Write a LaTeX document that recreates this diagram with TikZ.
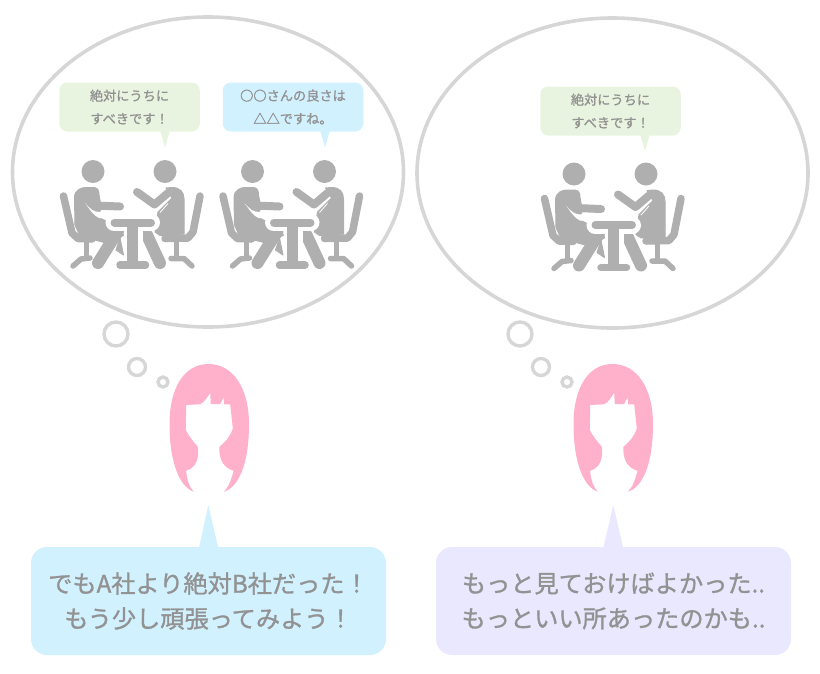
\documentclass[tikz,border=0pt]{standalone}
\usepackage{fontspec}
\usepackage{xcolor}
\usepackage{tikz}
\usetikzlibrary{shapes.geometric}
\newfontfamily\jpfont[FakeBold=1.1]{Noto Sans CJK JP}
\definecolor{ringgray}{HTML}{D6D6D6}
\definecolor{figgray}{HTML}{AFAFAF}
\definecolor{textgray}{HTML}{929292}
\definecolor{hairpink}{HTML}{FFB0CB}
\definecolor{sayblue}{HTML}{D2F1FF}
\definecolor{saygreen}{HTML}{E8F4DF}
\definecolor{saypurple}{HTML}{EAE8FE}

\begin{document}
\begin{tikzpicture}[
  x=1pt,y=-1pt,
  every node/.style={font=\jpfont,text=textgray,align=center,inner sep=0pt},
  thought/.style={ellipse,draw=ringgray,line width=3.6pt,minimum width=391pt,minimum height=310pt},
  ring/.style={circle,draw=ringgray,line width=3.4pt,minimum size=#1},
  smallsay/.style={rounded corners=8pt,fill=#1,minimum width=140.5pt,minimum height=49pt,font=\jpfont\fontsize{13.2}{23}\selectfont},
  bigsay/.style={rounded corners=16pt,fill=#1,minimum width=355pt,minimum height=108pt,font=\jpfont\fontsize{24.2}{35}\selectfont},
  limb/.style={draw=figgray,line width=#1,line cap=round,line join=round},
  limb/.default=7.5pt,
  solid part/.style={fill=figgray,draw=figgray,line width=1pt,line join=round},
  pics/meeting/.style={code={
    % left figure with chair
    \fill[figgray] (93,171.5) circle (11.5);
    \draw[limb] (63.5,196) -- (72,233) -- (78,238.5) -- (92,239);
    \draw[limb=5pt] (86.5,240) -- (86.5,258);
    \draw[limb=5.5pt] (73,266) -- (81,259) -- (90,258);
    \path[solid part] (74.5,197) .. controls (75,190) and (81,187.5) .. (86,187.5) -- (94,187.5)
      .. controls (98,188) and (99,191) .. (99,195) -- (100.5,203) -- (100.5,210)
      -- (98,217) -- (116,226) -- (124,235) -- (110,244) -- (80,236) -- (75,225) -- cycle;
    \draw[limb=8pt] (95,205.5) -- (120,206.5);
    \fill[white] (85,203) .. controls (90,209) and (94,212) .. (99,212) -- (104,211) -- (112,218) -- (99,218)
      .. controls (94,216) and (90,210) .. (85,203) -- cycle;
    \draw[limb=12pt] (118,231) -- (98,263);
    \path[solid part] (120,238) -- (123.5,255) -- (116,250) -- cycle;
    % right figure with chair
    \fill[figgray] (165,171.5) circle (11.5);
    \draw[limb] (200,196) -- (193,232) -- (188,238) -- (165,238.5);
    \draw[limb=5pt] (176.7,240) -- (176.7,258);
    \draw[limb=5.5pt] (192,266) -- (184,258.5) -- (171,258.5);
    \path[solid part] (166,188) -- (172,187.5) .. controls (180,187.5) and (184,192) .. (184,199)
      -- (184,234) -- (160,235.5) -- (155,232) -- (158,212) -- (172,198) -- cycle;
    \draw[white,line width=0.8pt] (168,203.5) -- (160,212.5);
    \draw[limb=8pt] (137,192) -- (154.5,204.5) -- (168,193);
    \draw[limb=12pt] (147,235) -- (160,263);
    % table
    \draw[white,line width=17pt,line cap=round] (114,222.5) -- (151.5,222.5);
    \fill[white] (124,222) rectangle (143,262);
    \draw[limb=8pt] (114.5,222.5) -- (151,222.5);
    \draw[limb=11pt,line cap=butt] (132.8,222) -- (132.8,265);
    \draw[limb=7.5pt] (120,265) -- (145.5,265);
  }},
  pics/hairdo/.style={code={
    \fill[hairpink] (-14.3,127.7) .. controls (-28,124) and (-39,100) .. (-39,60)
      .. controls (-39,25) and (-25,0) .. (0,0) .. controls (25,0) and (40.5,25) .. (40.5,60)
      .. controls (40.5,100) and (30,124) .. (15,127.7)
      .. controls (20,124) and (23,115) .. (25,106.7)
      .. controls (15,104) and (10,95) .. (11,82.7)
      .. controls (17,78) and (22,72) .. (24.3,64.3) -- (21.7,40.3) -- (15.7,40.3) -- (15,33.3)
      -- (11.7,40) -- (2.3,40) -- (1.7,28.7) .. controls (-1,33) and (-4,38) .. (-8.3,40.3)
      -- (-22.3,41) -- (-22.7,66)
      .. controls (-19,73) and (-15,78) .. (-10.7,82.7)
      .. controls (-9,95) and (-13,104) .. (-22.3,106.7)
      .. controls (-22,115) and (-19,124) .. (-14.3,127.7) -- cycle;
  }},
]
\useasboundingbox (0,0) rectangle (820,673);

% left side
\node[thought] (cloudA) at (208,172) {};
\node[ring=24pt] (ringA1) at (116,334) {};
\node[ring=17pt] (ringA2) at (137,367) {};
\node[ring=10pt] (ringA3) at (163,382) {};
\fill[saygreen] (160,130) -- (165,147.5) -- (170,130) -- cycle;
\node[smallsay=saygreen] (sayA) at (129.5,107) {絶対にうちに\\すべきです！};
\fill[sayblue] (320,130) -- (325,147.5) -- (330,130) -- cycle;
\node[smallsay=sayblue] (sayB) at (293,107) {○○さんの良さは\\△△ですね。};
\pic at (0,0) {meeting};
\pic at (159.5,0) {meeting};
\pic at (208.5,364) {hairdo};
\fill[sayblue] (199,548) -- (208.3,505) -- (218.3,548) -- cycle;
\node[bigsay=sayblue] (talkA) at (208.5,601) {でもA社より絶対B社だった！\\もう少し頑張ってみよう！};

% right side
\node[thought] (cloudB) at (612.5,173) {};
\node[ring=24pt] (ringB1) at (520,334) {};
\node[ring=17pt] (ringB2) at (541,367) {};
\node[ring=10pt] (ringB3) at (567,382) {};
\fill[saygreen] (640,134) -- (645,151) -- (650,134) -- cycle;
\node[smallsay=saygreen] (sayC) at (610.5,111) {絶対にうちに\\すべきです！};
\pic at (481,2.5) {meeting};
\pic at (612.5,364) {hairdo};
\fill[saypurple] (603.3,548) -- (613.3,505) -- (623.3,548) -- cycle;
\node[bigsay=saypurple] (talkB) at (613.5,601) {もっと見ておけばよかった..\\もっといい所あったのかも..};
\end{tikzpicture}
\end{document}
